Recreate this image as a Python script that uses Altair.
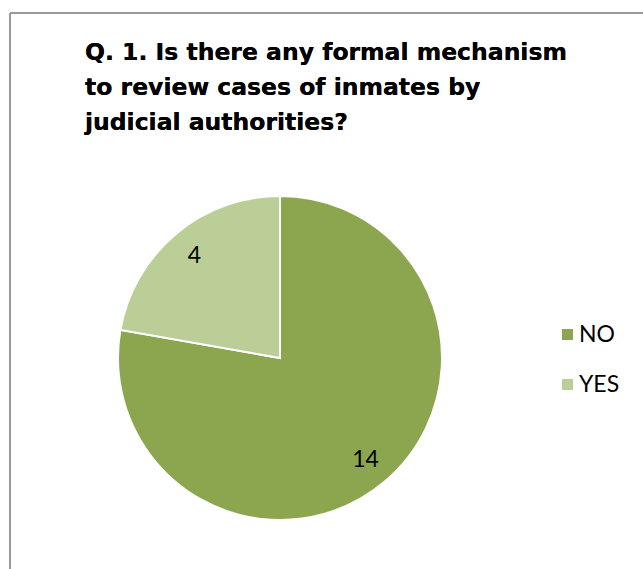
import altair as alt
import pandas as pd

categories = ["NO", "YES"]
values = [14, 4]
colors = ["#8BA64F", "#BBCE98"]
title_lines = ["Q. 1. Is there any formal mechanism",
               "to review cases of inmates by",
               "judicial authorities?"]

FONT = "Lato, Liberation Sans, sans-serif"
NARROW = "Liberation Sans Narrow, Lato, sans-serif"
TITLE_FONT = "DejaVu Sans, Lato, sans-serif"
W, H = 633, 556
CX, CY = 270, 345

df = pd.DataFrame({"answer": categories, "count": values, "order": [0, 1]})

base = alt.Chart(df).encode(
    theta=alt.Theta("count:Q", stack=True),
    order=alt.Order("order:Q"),
)

pie = base.mark_arc(outerRadius=162, stroke="white", strokeWidth=2).encode(
    x=alt.value(CX), y=alt.value(CY),
    color=alt.Color(
        "answer:N",
        scale=alt.Scale(domain=categories, range=colors),
        legend=alt.Legend(
            title=None, orient="none", legendX=546, legendY=310,
            symbolType="square", symbolSize=121, symbolStrokeWidth=0,
            labelFontSize=23, labelFont=NARROW, labelColor="#000000",
            labelOffset=0, rowPadding=26, padding=0,
        ),
    ),
)

labels = base.mark_text(radius=133, fontSize=23, font=NARROW, color="#000000").encode(
    x=alt.value(CX), y=alt.value(CY),
    text=alt.Text("count:Q"),
)

title = alt.Chart(df).mark_text(
    align="left", baseline="alphabetic", fontSize=23.5, fontWeight="bold",
    font=TITLE_FONT, color="#000000", lineHeight=35,
).encode(x=alt.value(75), y=alt.value(47), text=alt.value(title_lines))

top_border = alt.Chart(df).mark_rule(color="#999999", strokeWidth=2).encode(
    x=alt.value(0), x2=alt.value(W), y=alt.value(0))
left_border = alt.Chart(df).mark_rule(color="#999999", strokeWidth=2).encode(
    x=alt.value(0), y=alt.value(0), y2=alt.value(H))

chart = alt.layer(top_border, left_border, pie, labels, title).properties(
    width=W, height=H,
    autosize=alt.AutoSizeParams(type="none"),
    padding={"left": 10, "top": 13, "right": 0, "bottom": 0},
).configure_view(stroke=None)

chart.save("out.html", embed_options={"renderer": "svg", "actions": False})
